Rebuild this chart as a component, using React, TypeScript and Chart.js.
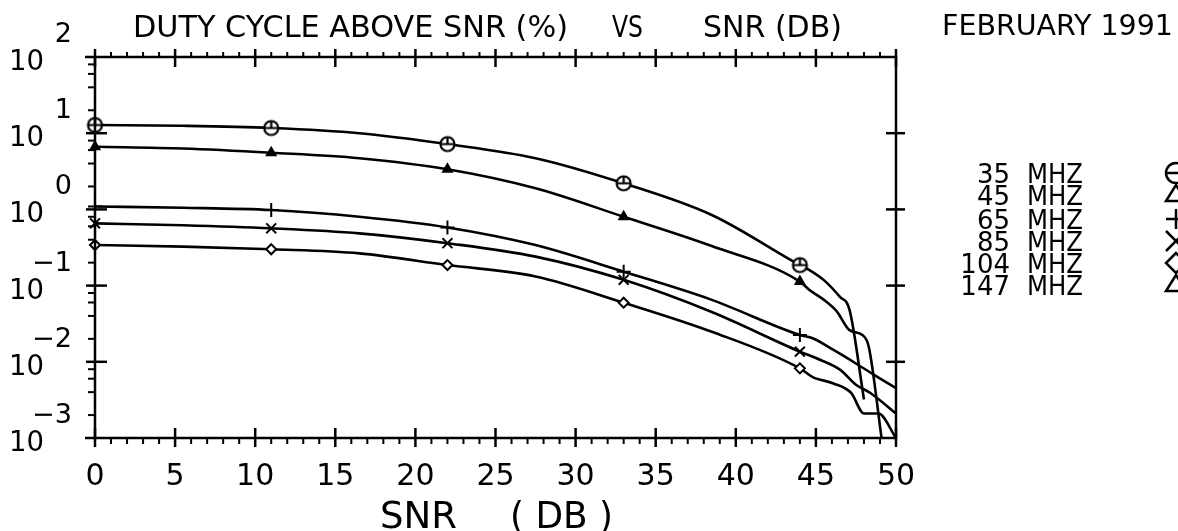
import { useEffect, useRef } from "react";
import { Chart, registerables } from "chart.js";

Chart.register(...registerables);

// ---------- data ----------
const SERIES_LABELS = ["35 MHZ", "45 MHZ", "65 MHZ", "85 MHZ", "104 MHZ", "147 MHZ"];
const SERIES_NUM = ["35", "45", "65", "85", "104", "147"];
const MARKER_X = [0, 11, 22, 33, 44];
const MAIN_X = [0, 5.5, 11, 16.5, 22, 27.5, 33, 38.5, 44];

const MHZ35_MAIN = [12.8, 12.5, 11.7, 10, 7.2, 4.7, 2.2, 0.845, 0.186];
const MHZ35_TAIL_X = [44.6, 45.5, 46.5, 47.1, 48.0];
const MHZ35_TAIL_Y = [0.16, 0.118, 0.071, 0.048, 0.0032];

const MHZ45_MAIN = [6.65, 6.3, 5.55, 4.7, 3.36, 1.89, 0.8, 0.33, 0.113];
const MHZ45_TAIL_X = [44.6, 45.5, 46.3, 47.1, 47.9, 48.3, 49.1];
const MHZ45_TAIL_Y = [0.0875, 0.065, 0.046, 0.026, 0.0225, 0.0158, 0.001];

const MHZ65_MAIN = [1.09, 1.05, 0.98, 0.8, 0.58, 0.34, 0.152, 0.065, 0.0225];
const MHZ65_TAIL_X = [44.8, 46.1, 47.5, 48.6, 50];
const MHZ65_TAIL_Y = [0.0204, 0.0143, 0.0095, 0.0068, 0.0045];

const MHZ85_MAIN = [0.656, 0.62, 0.565, 0.485, 0.36, 0.24, 0.119, 0.045, 0.0136];
const MHZ85_TAIL_X = [45.0, 46.5, 47.5, 48.4, 50];
const MHZ85_TAIL_Y = [0.0112, 0.0079, 0.005, 0.0039, 0.0021];

const MHZ104_MAIN = [0.341, 0.325, 0.3, 0.265, 0.186, 0.132, 0.0597, 0.0248, 0.0082];
const MHZ104_TAIL_X = [44.8, 46.1, 47.2, 48.0, 48.9, 50];
const MHZ104_TAIL_Y = [0.0063, 0.0052, 0.0039, 0.0021, 0.0021, 0.001];

const X_TICKS = [0, 5, 10, 15, 20, 25, 30, 35, 40, 45, 50];
const Y_DECADES = [-3, -2, -1, 0, 1, 2];

const TITLE_LEFT = "DUTY CYCLE ABOVE SNR (%)";
const TITLE_MID = "VS";
const TITLE_RIGHT = "SNR (DB)";
const DATE_TEXT = "FEBRUARY 1991";
const X_TITLE_A = "SNR";
const X_TITLE_B = "( DB )";

const FONT = '"DejaVu Sans", "Liberation Sans", sans-serif';

function build(mainY: number[], tailX: number[], tailY: number[]) {
  const pts = MAIN_X.map((x, i) => ({ x, y: mainY[i] }));
  tailX.forEach((x, i) => pts.push({ x, y: tailY[i] }));
  return pts;
}

function makeCircleImg(r: number, lw: number) {
  const c = document.createElement("canvas");
  const s = Math.ceil(2 * r + lw + 2);
  c.width = s;
  c.height = s;
  const g = c.getContext("2d")!;
  const m = s / 2;
  g.fillStyle = "#fff";
  g.strokeStyle = "#000";
  g.lineWidth = lw;
  g.beginPath();
  g.arc(m, m, r, 0, Math.PI * 2);
  g.fill();
  g.stroke();
  g.beginPath();
  g.moveTo(m - r, m);
  g.lineTo(m + r, m);
  g.moveTo(m, m - r);
  g.lineTo(m, m);
  g.stroke();
  return c;
}

function fitText(
  ctx: CanvasRenderingContext2D,
  text: string,
  x: number,
  baseline: number,
  width: number,
  size: number,
  align: "left" | "right" | "center"
) {
  ctx.font = `${size}px ${FONT}`;
  const w = ctx.measureText(text).width;
  const s = width > 0 ? width / w : 1;
  const dw = w * s;
  const x0 = align === "left" ? x : align === "right" ? x - dw : x - dw / 2;
  ctx.save();
  ctx.translate(x0, baseline);
  ctx.scale(s, 1);
  ctx.textAlign = "left";
  ctx.textBaseline = "alphabetic";
  ctx.fillStyle = "#000";
  ctx.fillText(text, 0, 0);
  ctx.restore();
}

const plotterPlugin = {
  id: "plotter",
  afterDatasetsDraw(chart: any) {
    const ctx: CanvasRenderingContext2D = chart.ctx;
    const xs = chart.scales.x;
    const ys = chart.scales.y;
    const L = xs.getPixelForValue(0);
    const R = xs.getPixelForValue(50);
    const T = ys.getPixelForValue(100);
    const B = ys.getPixelForValue(0.001);
    const seg = (x1: number, y1: number, x2: number, y2: number) => {
      ctx.beginPath();
      ctx.moveTo(x1, y1);
      ctx.lineTo(x2, y2);
      ctx.stroke();
    };
    ctx.save();
    ctx.strokeStyle = "#000";
    ctx.lineCap = "butt";
    ctx.lineWidth = 2.5;
    // frame
    seg(L - 10, T, R + 1, T);
    seg(L - 10, B, R + 1, B);
    seg(L, T - 1, L, B + 1);
    seg(R, T - 1, R, B + 1);
    // x ticks (top and bottom)
    for (let v = 0; v <= 50; v++) {
      const px = xs.getPixelForValue(v);
      if (v % 5 === 0) {
        ctx.lineWidth = 2.5;
        seg(px, T - 8, px, T + 10);
        seg(px, B - 10, px, B + 9);
      } else {
        ctx.lineWidth = 2;
        seg(px, T - 5, px, T);
        seg(px, B, px, B + 6);
      }
    }
    // y ticks
    ctx.lineWidth = 2.5;
    for (let d = -2; d <= 1; d++) {
      const py = ys.getPixelForValue(Math.pow(10, d));
      seg(L - 9, py, L + 12, py);
      seg(R - 10, py, R + 9, py);
    }
    ctx.lineWidth = 2;
    for (let d = -3; d <= 1; d++) {
      for (const k of [2, 4, 6, 8]) {
        const py = ys.getPixelForValue(k * Math.pow(10, d));
        seg(L - 7, py, L, py);
      }
    }
    // y labels
    for (const d of Y_DECADES) {
      const py = ys.getPixelForValue(Math.pow(10, d));
      fitText(ctx, "10", 44, py + 13, 35, 28, "right");
      const ex = d < 0 ? "\u2212" + Math.abs(d) : String(d);
      fitText(ctx, ex, 72, py - 15, d < 0 ? 40 : 0, 27, "right");
    }
    // x labels
    for (const v of X_TICKS) {
      const px = xs.getPixelForValue(v);
      fitText(ctx, String(v), px, 485, 0, 30, "center");
    }
    // axis title
    fitText(ctx, X_TITLE_A, 380, 528, 77, 38, "left");
    fitText(ctx, X_TITLE_B, 510, 528, 103, 38, "left");
    // title
    fitText(ctx, TITLE_LEFT, 133, 37, 435, 30, "left");
    fitText(ctx, TITLE_MID, 612, 37, 31, 30, "left");
    fitText(ctx, TITLE_RIGHT, 703, 37, 139, 30, "left");
    fitText(ctx, DATE_TEXT, 942, 35, 231, 28, "left");
    // legend
    const baselines = [183, 205, 229, 251, 273, 295];
    SERIES_NUM.forEach((n, i) => {
      fitText(ctx, n, 1010, baselines[i], 0, 26, "right");
      fitText(ctx, "MHZ", 1027, baselines[i], 56, 26, "left");
      const cy = baselines[i] - 10;
      const cx = 1176;
      const r = 10;
      ctx.lineWidth = 2.5;
      ctx.beginPath();
      if (i === 0) {
        ctx.arc(cx, cy, r, 0, Math.PI * 2);
        ctx.stroke();
        seg(cx - r, cy, cx + r, cy);
      } else if (i === 1 || i === 5) {
        ctx.moveTo(cx, cy - r);
        ctx.lineTo(cx - r, cy + r * 0.6);
        ctx.lineTo(cx + r, cy + r * 0.6);
        ctx.closePath();
        ctx.stroke();
      } else if (i === 2) {
        seg(cx - r, cy, cx + r, cy);
        seg(cx, cy - r, cx, cy + r);
      } else if (i === 3) {
        seg(cx - r, cy - r, cx + r, cy + r);
        seg(cx - r, cy + r, cx + r, cy - r);
      } else {
        ctx.moveTo(cx, cy - r);
        ctx.lineTo(cx - r, cy);
        ctx.lineTo(cx, cy + r);
        ctx.lineTo(cx + r, cy);
        ctx.closePath();
        ctx.stroke();
      }
    });
    ctx.restore();
  },
};

export default function App() {
  const ref = useRef<HTMLCanvasElement | null>(null);
  useEffect(() => {
    if (!ref.current) return;
    const circleImg = makeCircleImg(7, 2.2);
    const markerRadius = (r: number) => (c: any) =>
      c.raw && MARKER_X.includes(c.raw.x) ? r : 0;
    const base = {
      borderColor: "#000",
      borderWidth: 2.6,
      cubicInterpolationMode: "monotone" as const,
      pointBorderColor: "#000",
      pointBorderWidth: 2,
      pointHoverRadius: 0,
      clip: false as const,
    };
    const chart = new Chart(ref.current, {
      type: "line",
      data: {
        datasets: [
          {
            ...base,
            label: SERIES_LABELS[0],
            data: build(MHZ35_MAIN, MHZ35_TAIL_X, MHZ35_TAIL_Y),
            pointStyle: circleImg as any,
            pointRadius: markerRadius(7),
            pointBackgroundColor: "#fff",
          },
          {
            ...base,
            label: SERIES_LABELS[1],
            data: build(MHZ45_MAIN, MHZ45_TAIL_X, MHZ45_TAIL_Y),
            pointStyle: "triangle",
            pointRadius: markerRadius(5),
            pointBackgroundColor: "#000",
          },
          {
            ...base,
            label: SERIES_LABELS[2],
            data: build(MHZ65_MAIN, MHZ65_TAIL_X, MHZ65_TAIL_Y),
            pointStyle: "cross",
            pointRadius: markerRadius(7),
            pointBackgroundColor: "#000",
          },
          {
            ...base,
            label: SERIES_LABELS[3],
            data: build(MHZ85_MAIN, MHZ85_TAIL_X, MHZ85_TAIL_Y),
            pointStyle: "crossRot",
            pointRadius: markerRadius(7),
            pointBackgroundColor: "#000",
          },
          {
            ...base,
            label: SERIES_LABELS[4],
            data: build(MHZ104_MAIN, MHZ104_TAIL_X, MHZ104_TAIL_Y),
            pointStyle: "rectRot",
            pointRadius: markerRadius(5),
            pointBackgroundColor: "#fff",
          },
        ],
      },
      options: {
        animation: false,
        responsive: false,
        devicePixelRatio: 1,
        events: [],
        layout: { padding: { left: 95, top: 57, right: 282, bottom: 93 } },
        scales: {
          x: { type: "linear", min: 0, max: 50, display: false },
          y: { type: "logarithmic", min: 0.001, max: 100, display: false },
        },
        plugins: {
          legend: { display: false },
          tooltip: { enabled: false },
          title: { display: false },
        },
      },
      plugins: [plotterPlugin],
    });
    return () => chart.destroy();
  }, []);
  return (
    <div style={{ position: "absolute", left: 0, top: 0, width: 1178, height: 531, background: "#fff" }}>
      <canvas ref={ref} width={1178} height={531} style={{ display: "block" }} />
    </div>
  );
}
